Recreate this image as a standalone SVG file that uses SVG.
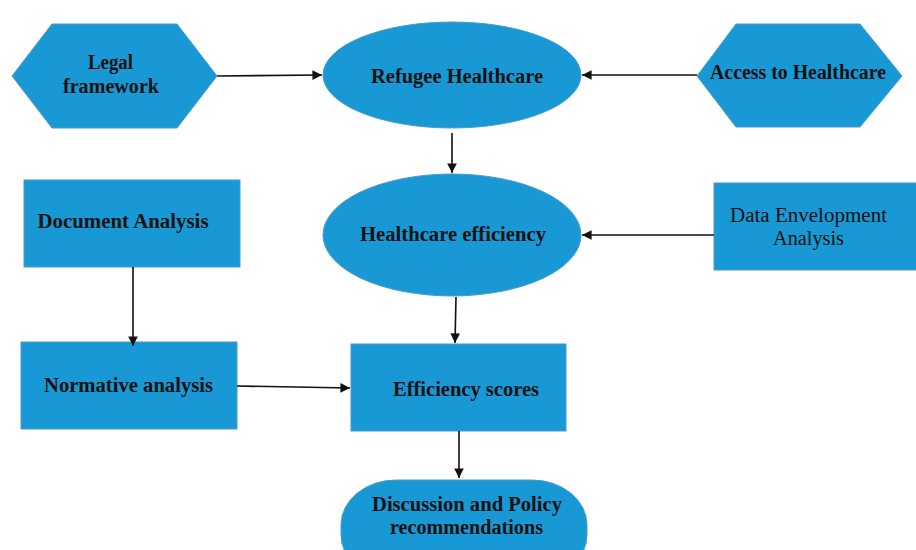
<svg xmlns="http://www.w3.org/2000/svg" width="916" height="550" viewBox="0 0 916 550">
<defs>
<style>
.n{fill:#1899d5;stroke:#4a9acb;stroke-width:1}
.t{font-family:"Liberation Serif","Times New Roman",serif;font-weight:bold;font-size:20px;fill:#111;text-anchor:middle}
.r{font-family:"Liberation Serif","Times New Roman",serif;font-size:20px;fill:#111;text-anchor:middle}
.c{stroke:#111;stroke-width:1.6;fill:none;marker-end:url(#ah)}
</style>
<marker id="ah" viewBox="0 0 10 10" refX="10" refY="5" markerWidth="6" markerHeight="6" orient="auto" markerUnits="strokeWidth">
<path d="M0,0 L10,5 L0,10 Z" fill="#111"/>
</marker>
</defs>
<rect width="916" height="550" fill="#fff"/>
<g id="legal">
<polygon class="n" points="12,76 52,24 177,24 217,76 177,128 52,128"/>
<text class="t" x="110.5" y="69" textLength="45" lengthAdjust="spacingAndGlyphs">Legal</text>
<text class="t" x="111" y="93" textLength="96" lengthAdjust="spacingAndGlyphs">framework</text>
</g>
<g id="refugee">
<ellipse class="n" cx="452" cy="75" rx="129" ry="53"/>
<text class="t" x="457" y="83" textLength="172" lengthAdjust="spacingAndGlyphs">Refugee Healthcare</text>
</g>
<g id="access">
<polygon class="n" points="697,76 736,24 860,24 902,76 860,127 736,127"/>
<text class="t" x="798" y="79" textLength="176" lengthAdjust="spacingAndGlyphs">Access to Healthcare</text>
</g>
<g id="hceff">
<ellipse class="n" cx="452" cy="235" rx="129" ry="61"/>
<text class="t" x="453" y="241" textLength="186" lengthAdjust="spacingAndGlyphs">Healthcare efficiency</text>
</g>
<g id="dea">
<rect class="n" x="714" y="183" width="205" height="87"/>
<text class="r" x="808.5" y="222" textLength="157" lengthAdjust="spacingAndGlyphs">Data Envelopment</text>
<text class="r" x="808.5" y="245" textLength="71" lengthAdjust="spacingAndGlyphs">Analysis</text>
</g>
<g id="doc">
<rect class="n" x="24" y="180" width="216" height="87"/>
<text class="t" x="123" y="228" textLength="171" lengthAdjust="spacingAndGlyphs">Document Analysis</text>
</g>
<g id="norm">
<rect class="n" x="21" y="342" width="216" height="87"/>
<text class="t" x="128.5" y="392" textLength="169" lengthAdjust="spacingAndGlyphs">Normative analysis</text>
</g>
<g id="effscores">
<rect class="n" x="351" y="344" width="215" height="87"/>
<text class="t" x="466" y="396" textLength="146" lengthAdjust="spacingAndGlyphs">Efficiency scores</text>
</g>
<g id="discussion">
<rect class="n" x="341" y="480" width="246" height="100" rx="55" ry="45"/>
<text class="t" x="467" y="511" textLength="190" lengthAdjust="spacingAndGlyphs">Discussion and Policy</text>
<text class="t" x="466.5" y="534" textLength="153" lengthAdjust="spacingAndGlyphs">recommendations</text>
</g>
<g id="connectors">
<line class="c" x1="217" y1="76" x2="322" y2="75"/>
<line class="c" x1="697" y1="75" x2="582" y2="75"/>
<line class="c" x1="452" y1="133" x2="452" y2="173"/>
<line class="c" x1="714" y1="235" x2="582" y2="235"/>
<line class="c" x1="456" y1="297" x2="455" y2="343"/>
<line class="c" x1="133" y1="267" x2="133" y2="346"/>
<line class="c" x1="237" y1="386" x2="350" y2="388"/>
<line class="c" x1="459" y1="431" x2="459" y2="478"/>
</g>
</svg>
